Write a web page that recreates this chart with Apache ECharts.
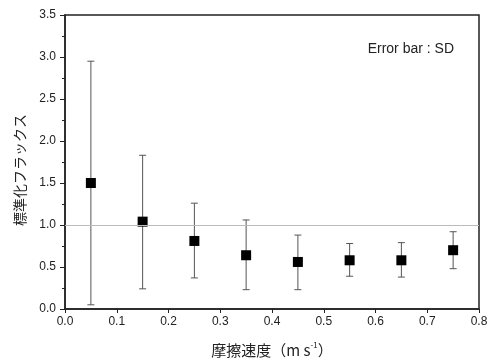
<!DOCTYPE html>
<html>
<head>
<meta charset="utf-8">
<script src="https://cdn.jsdelivr.net/npm/echarts@6/dist/echarts.min.js"></script>
<style>
  html, body { margin: 0; padding: 0; background: #fff; }
  #chart { width: 491px; height: 358px; }
</style>
</head>
<body>
<div id="chart"></div>
<script>
// friction velocity (m s-1)
const speeds = [0.05, 0.15, 0.25, 0.35, 0.45, 0.55, 0.65, 0.75];
// normalized flux (mean)
const means = [1.50, 1.04, 0.81, 0.64, 0.56, 0.58, 0.58, 0.70];
// mean + SD / mean - SD
const upper = [2.95, 1.83, 1.26, 1.06, 0.88, 0.78, 0.79, 0.92];
const lower = [0.05, 0.24, 0.37, 0.23, 0.23, 0.39, 0.38, 0.48];

const tickFont = { fontFamily: 'Liberation Sans', fontSize: 12, color: '#222' };

const chart = echarts.init(document.getElementById('chart'));

chart.setOption({
  animation: false,
  grid: {
    left: 65,
    right: 12,
    top: 15,
    bottom: 49,
    outerBoundsMode: 'none',
    show: true,
    borderColor: '#222',
    borderWidth: 1.5,
  },
  xAxis: {
    type: 'value',
    min: 0,
    max: 0.8,
    interval: 0.1,
    name: '{n|摩擦速度（m s}{s|-1}{n|）}',
    nameLocation: 'middle',
    nameGap: 32,
    nameTextStyle: {
      rich: {
        n: { fontFamily: 'Noto Sans CJK JP', fontSize: 15, color: '#222' },
        s: { fontFamily: 'Noto Sans CJK JP', fontSize: 8, color: '#222', verticalAlign: 'top', padding: [0, 0, 10, 0] },
      },
    },
    axisLine: { lineStyle: { color: '#222', width: 1.5 } },
    axisTick: { inside: false, length: 4, lineStyle: { color: '#222' } },
    axisLabel: {
      ...tickFont,
      margin: 7,
      formatter: (v) => v.toFixed(1),
    },
    splitLine: { show: false },
  },
  yAxis: {
    type: 'value',
    min: 0,
    max: 3.5,
    interval: 0.5,
    name: '標準化フラックス',
    nameLocation: 'middle',
    nameGap: 38,
    nameTextStyle: {
      fontFamily: 'Noto Sans CJK JP',
      fontSize: 14,
      color: '#222',
      padding: [0, 16, 0, 0],
    },
    axisLine: { lineStyle: { color: '#222', width: 1.5 } },
    axisTick: { inside: false, length: 5, lineStyle: { color: '#222' } },
    minorTick: { show: true, splitNumber: 2, length: 3, lineStyle: { color: '#222' } },
    axisLabel: {
      ...tickFont,
      margin: 9,
      formatter: (v) => v.toFixed(1),
    },
    splitLine: { show: false },
  },
  graphic: [
    {
      type: 'text',
      right: 37,
      top: 42,
      style: {
        text: 'Error bar : SD',
        font: '14px "Liberation Sans", Arial, sans-serif',
        fill: '#222',
      },
    },
  ],
  series: [
    {
      type: 'custom',
      name: 'SD',
      data: speeds.map((x, i) => [x, lower[i], upper[i]]),
      renderItem: (params, api) => {
        const lo = api.coord([api.value(0), api.value(1)]);
        const hi = api.coord([api.value(0), api.value(2)]);
        const half = 3.5;
        const style = { stroke: '#555', lineWidth: 1 };
        return {
          type: 'group',
          children: [
            { type: 'line', shape: { x1: lo[0], y1: lo[1], x2: hi[0], y2: hi[1] }, style },
            { type: 'line', shape: { x1: hi[0] - half, y1: hi[1], x2: hi[0] + half, y2: hi[1] }, style },
            { type: 'line', shape: { x1: lo[0] - half, y1: lo[1], x2: lo[0] + half, y2: lo[1] }, style },
          ],
        };
      },
      z: 2,
    },
    {
      type: 'scatter',
      name: 'mean',
      data: speeds.map((x, i) => [x, means[i]]),
      symbol: 'rect',
      symbolSize: 10,
      itemStyle: { color: '#000', opacity: 1 },
      z: 3,
      markLine: {
        silent: true,
        symbol: 'none',
        label: { show: false },
        lineStyle: { color: '#bbb', type: 'solid', width: 1 },
        data: [{ yAxis: 1 }],
      },
    },
  ],
});
</script>
</body>
</html>
